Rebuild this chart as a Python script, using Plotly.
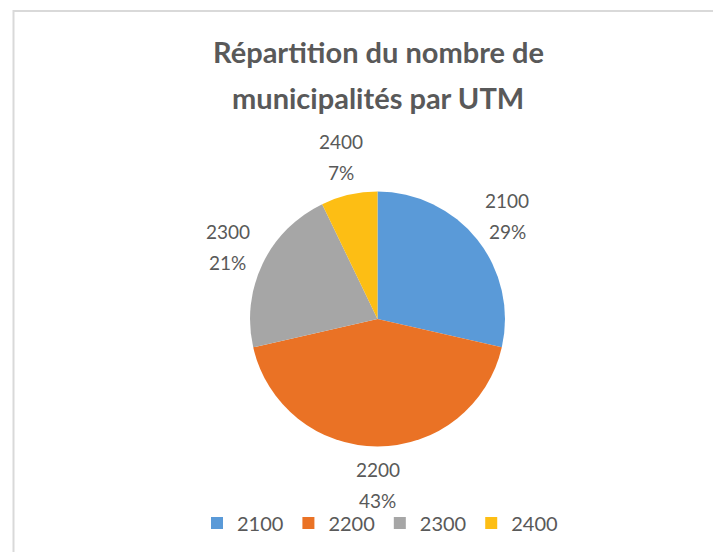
import math
import plotly.graph_objects as go

# Data
utm_labels = ['2100', '2200', '2300', '2400']
nb_municipalites = [4, 6, 3, 1]
slice_colors = ['#5A9AD8', '#EA7225', '#A6A6A6', '#FDBE14']

title_lines = ['Répartition du nombre de', 'municipalités par UTM']

# page body has an 8px margin, so the figure is a bit smaller than the window
W, H = 713, 544
text_grey = '#595959'

# pie geometry (pixels, figure coords)
cx, cy, r = 369.5, 311.0, 127.5
label_dist = 166
line_gap = 15.5

fig = go.Figure()

fig.add_trace(go.Pie(
    labels=utm_labels,
    values=nb_municipalites,
    sort=False,
    direction='clockwise',
    rotation=0,
    marker=dict(colors=slice_colors, line=dict(width=0)),
    textinfo='none',
    domain=dict(x=[(cx - r) / W, (cx + r) / W], y=[1 - (cy + r) / H, 1 - (cy - r) / H]),
    hoverinfo='label+value+percent',
))

# data labels: name + percent on two lines, outside the slice middle
total = sum(nb_municipalites)
cum = 0
for lab, val in zip(utm_labels, nb_municipalites):
    mid = (cum + val / 2) / total * 2 * math.pi
    cum += val
    px = cx + label_dist * math.sin(mid)
    py = cy - label_dist * math.cos(mid)
    pct = '{:.0f}%'.format(100 * val / total)
    for txt, shift in [(lab, line_gap), (pct, -line_gap)]:
        fig.add_annotation(
            text=txt,
            x=px / W, y=1 - py / H,
            xref='paper', yref='paper',
            xanchor='center', yanchor='middle',
            yshift=shift,
            showarrow=False,
            font=dict(family='Lato', size=19, color=text_grey),
        )

# title, two lines placed separately (Excel line spacing is wider)
for i, line in enumerate(title_lines):
    fig.add_annotation(
        text='<b>' + line + '</b>',
        x=370 / W, y=1 - (43 + 47 * i) / H,
        xref='paper', yref='paper',
        xanchor='center', yanchor='middle',
        showarrow=False,
        font=dict(family='Lato', size=29, color=text_grey),
    )

# chart frame (cut off at right / bottom in the source image)
fig.add_shape(
    type='rect', xref='paper', yref='paper',
    x0=5.5 / W, x1=1.02, y0=-0.02, y1=1 - 3 / H,
    line=dict(color='#D9D9D9', width=2),
)

fig.update_layout(
    width=W, height=H,
    margin=dict(l=0, r=0, t=0, b=0),
    paper_bgcolor='white',
    plot_bgcolor='white',
    showlegend=True,
    legend=dict(
        orientation='h',
        x=372 / W, xanchor='center',
        y=1 - 515 / H, yanchor='middle',
        font=dict(family='Lato', size=20, color=text_grey),
        traceorder='normal',
    ),
)

fig.write_html('out.html')
